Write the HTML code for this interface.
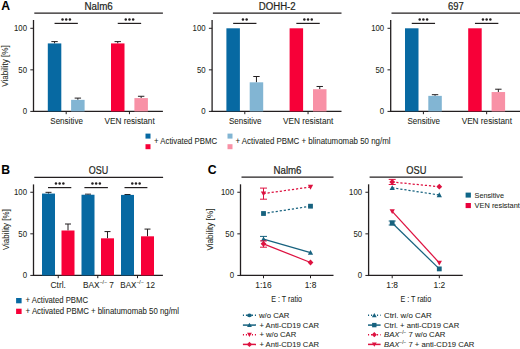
<!DOCTYPE html>
<html><head><meta charset="utf-8"><style>
html,body{margin:0;padding:0;background:#fff;}
body{width:520px;height:349px;overflow:hidden;}
svg{display:block;font-family:"Liberation Sans", sans-serif;}
text{stroke:#231f20;stroke-width:0.06px;}
text.t{stroke-width:0.2px;}
</style></head><body>
<svg width="520" height="349" viewBox="0 0 520 349">
<rect width="520" height="349" fill="#fff"/>
<text x="1.20" y="9.70" font-size="12.2" text-anchor="start" font-weight="bold" fill="#000">A</text>
<text x="98.60" y="9.70" font-size="10" text-anchor="middle" font-weight="normal" fill="#231f20" textLength="28.3" lengthAdjust="spacingAndGlyphs" class="t">Nalm6</text>
<line x1="34.30" y1="13.10" x2="162.90" y2="13.10" stroke="#231f20" stroke-width="1.2"/>
<line x1="33.50" y1="20.00" x2="33.50" y2="112.00" stroke="#231f20" stroke-width="1.3"/>
<line x1="30.30" y1="28.30" x2="33.50" y2="28.30" stroke="#231f20" stroke-width="1"/>
<text x="27.00" y="31.30" font-size="8.6" text-anchor="end" font-weight="normal" fill="#231f20" textLength="13.0" lengthAdjust="spacingAndGlyphs">100</text>
<line x1="30.30" y1="69.85" x2="33.50" y2="69.85" stroke="#231f20" stroke-width="1"/>
<text x="27.00" y="72.85" font-size="8.6" text-anchor="end" font-weight="normal" fill="#231f20" textLength="8.7" lengthAdjust="spacingAndGlyphs">50</text>
<line x1="30.30" y1="111.40" x2="33.50" y2="111.40" stroke="#231f20" stroke-width="1"/>
<text x="27.00" y="114.40" font-size="8.6" text-anchor="end" font-weight="normal" fill="#231f20" textLength="4.35" lengthAdjust="spacingAndGlyphs">0</text>
<line x1="32.90" y1="111.40" x2="162.90" y2="111.40" stroke="#231f20" stroke-width="1.3"/>
<line x1="54.55" y1="41.60" x2="54.55" y2="43.42" stroke="#231f20" stroke-width="1"/>
<line x1="51.35" y1="41.60" x2="57.75" y2="41.60" stroke="#231f20" stroke-width="1"/>
<rect x="47.80" y="43.42" width="13.50" height="67.98" fill="#0769a2"/>
<line x1="77.85" y1="98.10" x2="77.85" y2="99.85" stroke="#231f20" stroke-width="1"/>
<line x1="74.65" y1="98.10" x2="81.05" y2="98.10" stroke="#231f20" stroke-width="1"/>
<rect x="71.10" y="99.85" width="13.50" height="11.55" fill="#82b5d3"/>
<line x1="117.75" y1="41.60" x2="117.75" y2="43.42" stroke="#231f20" stroke-width="1"/>
<line x1="114.55" y1="41.60" x2="120.95" y2="41.60" stroke="#231f20" stroke-width="1"/>
<rect x="111.00" y="43.42" width="13.50" height="67.98" fill="#f70038"/>
<line x1="141.15" y1="96.28" x2="141.15" y2="98.10" stroke="#231f20" stroke-width="1"/>
<line x1="137.95" y1="96.28" x2="144.35" y2="96.28" stroke="#231f20" stroke-width="1"/>
<rect x="134.40" y="98.10" width="13.50" height="13.30" fill="#f891a6"/>
<line x1="66.20" y1="111.40" x2="66.20" y2="114.20" stroke="#231f20" stroke-width="1"/>
<line x1="129.45" y1="111.40" x2="129.45" y2="114.20" stroke="#231f20" stroke-width="1"/>
<line x1="54.55" y1="23.40" x2="77.85" y2="23.40" stroke="#231f20" stroke-width="1.2"/>
<circle cx="62.50" cy="19.40" r="1.25" fill="#231f20"/>
<circle cx="66.20" cy="19.40" r="1.25" fill="#231f20"/>
<circle cx="69.90" cy="19.40" r="1.25" fill="#231f20"/>
<line x1="117.75" y1="23.40" x2="141.15" y2="23.40" stroke="#231f20" stroke-width="1.2"/>
<circle cx="125.75" cy="19.40" r="1.25" fill="#231f20"/>
<circle cx="129.45" cy="19.40" r="1.25" fill="#231f20"/>
<circle cx="133.15" cy="19.40" r="1.25" fill="#231f20"/>
<text x="66.60" y="123.60" font-size="8.5" text-anchor="middle" font-weight="normal" fill="#231f20" textLength="32.6" lengthAdjust="spacingAndGlyphs">Sensitive</text>
<text x="129.60" y="123.60" font-size="8.5" text-anchor="middle" font-weight="normal" fill="#231f20" textLength="50.3" lengthAdjust="spacingAndGlyphs">VEN resistant</text>
<text transform="translate(7.9,66.0) rotate(-90)" font-size="9" text-anchor="middle" fill="#231f20" textLength="41.5" lengthAdjust="spacingAndGlyphs">Viability [%]</text>
<text x="277.20" y="9.70" font-size="10" text-anchor="middle" font-weight="normal" fill="#231f20" textLength="36.9" lengthAdjust="spacingAndGlyphs" class="t">DOHH-2</text>
<line x1="212.90" y1="13.10" x2="341.50" y2="13.10" stroke="#231f20" stroke-width="1.2"/>
<line x1="212.10" y1="20.00" x2="212.10" y2="112.00" stroke="#231f20" stroke-width="1.3"/>
<line x1="208.90" y1="28.30" x2="212.10" y2="28.30" stroke="#231f20" stroke-width="1"/>
<text x="205.60" y="31.30" font-size="8.6" text-anchor="end" font-weight="normal" fill="#231f20" textLength="13.0" lengthAdjust="spacingAndGlyphs">100</text>
<line x1="208.90" y1="69.85" x2="212.10" y2="69.85" stroke="#231f20" stroke-width="1"/>
<text x="205.60" y="72.85" font-size="8.6" text-anchor="end" font-weight="normal" fill="#231f20" textLength="8.7" lengthAdjust="spacingAndGlyphs">50</text>
<line x1="208.90" y1="111.40" x2="212.10" y2="111.40" stroke="#231f20" stroke-width="1"/>
<text x="205.60" y="114.40" font-size="8.6" text-anchor="end" font-weight="normal" fill="#231f20" textLength="4.35" lengthAdjust="spacingAndGlyphs">0</text>
<line x1="211.50" y1="111.40" x2="341.50" y2="111.40" stroke="#231f20" stroke-width="1.3"/>
<rect x="226.40" y="28.30" width="13.50" height="83.10" fill="#0769a2"/>
<line x1="256.45" y1="76.50" x2="256.45" y2="82.32" stroke="#231f20" stroke-width="1"/>
<line x1="253.25" y1="76.50" x2="259.65" y2="76.50" stroke="#231f20" stroke-width="1"/>
<rect x="249.70" y="82.32" width="13.50" height="29.08" fill="#82b5d3"/>
<rect x="289.60" y="28.30" width="13.50" height="83.10" fill="#f70038"/>
<line x1="319.75" y1="86.47" x2="319.75" y2="89.21" stroke="#231f20" stroke-width="1"/>
<line x1="316.55" y1="86.47" x2="322.95" y2="86.47" stroke="#231f20" stroke-width="1"/>
<rect x="313.00" y="89.21" width="13.50" height="22.19" fill="#f891a6"/>
<line x1="244.80" y1="111.40" x2="244.80" y2="114.20" stroke="#231f20" stroke-width="1"/>
<line x1="308.05" y1="111.40" x2="308.05" y2="114.20" stroke="#231f20" stroke-width="1"/>
<line x1="233.15" y1="23.40" x2="256.45" y2="23.40" stroke="#231f20" stroke-width="1.2"/>
<circle cx="242.95" cy="19.40" r="1.25" fill="#231f20"/>
<circle cx="246.65" cy="19.40" r="1.25" fill="#231f20"/>
<line x1="296.35" y1="23.40" x2="319.75" y2="23.40" stroke="#231f20" stroke-width="1.2"/>
<circle cx="304.35" cy="19.40" r="1.25" fill="#231f20"/>
<circle cx="308.05" cy="19.40" r="1.25" fill="#231f20"/>
<circle cx="311.75" cy="19.40" r="1.25" fill="#231f20"/>
<text x="245.20" y="123.60" font-size="8.5" text-anchor="middle" font-weight="normal" fill="#231f20" textLength="32.6" lengthAdjust="spacingAndGlyphs">Sensitive</text>
<text x="308.20" y="123.60" font-size="8.5" text-anchor="middle" font-weight="normal" fill="#231f20" textLength="50.3" lengthAdjust="spacingAndGlyphs">VEN resistant</text>
<text x="455.80" y="9.70" font-size="10" text-anchor="middle" font-weight="normal" fill="#231f20" textLength="15.7" lengthAdjust="spacingAndGlyphs" class="t">697</text>
<line x1="391.50" y1="13.10" x2="520.00" y2="13.10" stroke="#231f20" stroke-width="1.2"/>
<line x1="390.70" y1="20.00" x2="390.70" y2="112.00" stroke="#231f20" stroke-width="1.3"/>
<line x1="387.50" y1="28.30" x2="390.70" y2="28.30" stroke="#231f20" stroke-width="1"/>
<text x="384.20" y="31.30" font-size="8.6" text-anchor="end" font-weight="normal" fill="#231f20" textLength="13.0" lengthAdjust="spacingAndGlyphs">100</text>
<line x1="387.50" y1="69.85" x2="390.70" y2="69.85" stroke="#231f20" stroke-width="1"/>
<text x="384.20" y="72.85" font-size="8.6" text-anchor="end" font-weight="normal" fill="#231f20" textLength="8.7" lengthAdjust="spacingAndGlyphs">50</text>
<line x1="387.50" y1="111.40" x2="390.70" y2="111.40" stroke="#231f20" stroke-width="1"/>
<text x="384.20" y="114.40" font-size="8.6" text-anchor="end" font-weight="normal" fill="#231f20" textLength="4.35" lengthAdjust="spacingAndGlyphs">0</text>
<line x1="390.10" y1="111.40" x2="520.10" y2="111.40" stroke="#231f20" stroke-width="1.3"/>
<rect x="405.00" y="28.30" width="13.50" height="83.10" fill="#0769a2"/>
<line x1="435.05" y1="94.70" x2="435.05" y2="95.86" stroke="#231f20" stroke-width="1"/>
<line x1="431.85" y1="94.70" x2="438.25" y2="94.70" stroke="#231f20" stroke-width="1"/>
<rect x="428.30" y="95.86" width="13.50" height="15.54" fill="#82b5d3"/>
<rect x="468.20" y="28.30" width="13.50" height="83.10" fill="#f70038"/>
<line x1="498.35" y1="89.21" x2="498.35" y2="92.04" stroke="#231f20" stroke-width="1"/>
<line x1="495.15" y1="89.21" x2="501.55" y2="89.21" stroke="#231f20" stroke-width="1"/>
<rect x="491.60" y="92.04" width="13.50" height="19.36" fill="#f891a6"/>
<line x1="423.40" y1="111.40" x2="423.40" y2="114.20" stroke="#231f20" stroke-width="1"/>
<line x1="486.65" y1="111.40" x2="486.65" y2="114.20" stroke="#231f20" stroke-width="1"/>
<line x1="411.75" y1="23.40" x2="435.05" y2="23.40" stroke="#231f20" stroke-width="1.2"/>
<circle cx="419.70" cy="19.40" r="1.25" fill="#231f20"/>
<circle cx="423.40" cy="19.40" r="1.25" fill="#231f20"/>
<circle cx="427.10" cy="19.40" r="1.25" fill="#231f20"/>
<line x1="474.95" y1="23.40" x2="498.35" y2="23.40" stroke="#231f20" stroke-width="1.2"/>
<circle cx="482.95" cy="19.40" r="1.25" fill="#231f20"/>
<circle cx="486.65" cy="19.40" r="1.25" fill="#231f20"/>
<circle cx="490.35" cy="19.40" r="1.25" fill="#231f20"/>
<text x="423.80" y="123.60" font-size="8.5" text-anchor="middle" font-weight="normal" fill="#231f20" textLength="32.6" lengthAdjust="spacingAndGlyphs">Sensitive</text>
<text x="486.80" y="123.60" font-size="8.5" text-anchor="middle" font-weight="normal" fill="#231f20" textLength="50.3" lengthAdjust="spacingAndGlyphs">VEN resistant</text>
<rect x="145.50" y="133.60" width="5.00" height="5.00" fill="#0769a2"/>
<rect x="145.50" y="144.20" width="5.00" height="5.00" fill="#f70038"/>
<text x="154.00" y="144.10" font-size="8.4" text-anchor="start" font-weight="normal" fill="#231f20" textLength="63.1" lengthAdjust="spacingAndGlyphs">+ Activated PBMC</text>
<rect x="227.50" y="133.60" width="5.00" height="5.00" fill="#82b5d3"/>
<rect x="227.50" y="144.20" width="5.00" height="5.00" fill="#f891a6"/>
<text x="235.40" y="144.10" font-size="8.4" text-anchor="start" font-weight="normal" fill="#231f20" textLength="155.1" lengthAdjust="spacingAndGlyphs">+ Activated PBMC + blinatumomab 50 ng/ml</text>
<text x="1.20" y="174.30" font-size="12.2" text-anchor="start" font-weight="bold" fill="#000">B</text>
<text x="98.50" y="174.30" font-size="10.3" text-anchor="middle" font-weight="normal" fill="#231f20" textLength="19.4" lengthAdjust="spacingAndGlyphs" class="t">OSU</text>
<line x1="34.30" y1="177.30" x2="163.10" y2="177.30" stroke="#231f20" stroke-width="1.2"/>
<line x1="33.50" y1="184.40" x2="33.50" y2="276.00" stroke="#231f20" stroke-width="1.3"/>
<line x1="30.30" y1="192.25" x2="33.50" y2="192.25" stroke="#231f20" stroke-width="1"/>
<text x="27.00" y="195.25" font-size="8.6" text-anchor="end" font-weight="normal" fill="#231f20" textLength="13.0" lengthAdjust="spacingAndGlyphs">100</text>
<line x1="30.30" y1="233.82" x2="33.50" y2="233.82" stroke="#231f20" stroke-width="1"/>
<text x="27.00" y="236.82" font-size="8.6" text-anchor="end" font-weight="normal" fill="#231f20" textLength="8.7" lengthAdjust="spacingAndGlyphs">50</text>
<line x1="30.30" y1="275.40" x2="33.50" y2="275.40" stroke="#231f20" stroke-width="1"/>
<text x="27.00" y="278.40" font-size="8.6" text-anchor="end" font-weight="normal" fill="#231f20" textLength="4.35" lengthAdjust="spacingAndGlyphs">0</text>
<line x1="32.90" y1="275.40" x2="162.90" y2="275.40" stroke="#231f20" stroke-width="1.3"/>
<line x1="48.50" y1="192.33" x2="48.50" y2="193.58" stroke="#231f20" stroke-width="1"/>
<line x1="45.50" y1="192.33" x2="51.50" y2="192.33" stroke="#231f20" stroke-width="1"/>
<rect x="42.00" y="193.58" width="13.00" height="81.82" fill="#0769a2"/>
<line x1="68.00" y1="224.01" x2="68.00" y2="230.50" stroke="#231f20" stroke-width="1"/>
<line x1="65.00" y1="224.01" x2="71.00" y2="224.01" stroke="#231f20" stroke-width="1"/>
<rect x="61.50" y="230.50" width="13.00" height="44.90" fill="#f70038"/>
<line x1="88.00" y1="194.16" x2="88.00" y2="194.74" stroke="#231f20" stroke-width="1"/>
<line x1="85.00" y1="194.16" x2="91.00" y2="194.16" stroke="#231f20" stroke-width="1"/>
<rect x="81.50" y="194.74" width="13.00" height="80.66" fill="#0769a2"/>
<line x1="107.50" y1="231.58" x2="107.50" y2="238.32" stroke="#231f20" stroke-width="1"/>
<line x1="104.50" y1="231.58" x2="110.50" y2="231.58" stroke="#231f20" stroke-width="1"/>
<rect x="101.00" y="238.32" width="13.00" height="37.08" fill="#f70038"/>
<line x1="127.50" y1="194.50" x2="127.50" y2="194.91" stroke="#231f20" stroke-width="1"/>
<line x1="124.50" y1="194.50" x2="130.50" y2="194.50" stroke="#231f20" stroke-width="1"/>
<rect x="121.00" y="194.91" width="13.00" height="80.49" fill="#0769a2"/>
<line x1="147.50" y1="229.09" x2="147.50" y2="236.32" stroke="#231f20" stroke-width="1"/>
<line x1="144.50" y1="229.09" x2="150.50" y2="229.09" stroke="#231f20" stroke-width="1"/>
<rect x="141.00" y="236.32" width="13.00" height="39.08" fill="#f70038"/>
<line x1="58.25" y1="275.40" x2="58.25" y2="278.20" stroke="#231f20" stroke-width="1"/>
<line x1="97.75" y1="275.40" x2="97.75" y2="278.20" stroke="#231f20" stroke-width="1"/>
<line x1="137.50" y1="275.40" x2="137.50" y2="278.20" stroke="#231f20" stroke-width="1"/>
<line x1="48.00" y1="187.60" x2="71.30" y2="187.60" stroke="#231f20" stroke-width="1.2"/>
<circle cx="55.95" cy="183.50" r="1.25" fill="#231f20"/>
<circle cx="59.65" cy="183.50" r="1.25" fill="#231f20"/>
<circle cx="63.35" cy="183.50" r="1.25" fill="#231f20"/>
<line x1="84.40" y1="187.60" x2="107.90" y2="187.60" stroke="#231f20" stroke-width="1.2"/>
<circle cx="92.45" cy="183.50" r="1.25" fill="#231f20"/>
<circle cx="96.15" cy="183.50" r="1.25" fill="#231f20"/>
<circle cx="99.85" cy="183.50" r="1.25" fill="#231f20"/>
<line x1="124.50" y1="187.60" x2="147.40" y2="187.60" stroke="#231f20" stroke-width="1.2"/>
<circle cx="132.25" cy="183.50" r="1.25" fill="#231f20"/>
<circle cx="135.95" cy="183.50" r="1.25" fill="#231f20"/>
<circle cx="139.65" cy="183.50" r="1.25" fill="#231f20"/>
<text transform="translate(9.3,229.7) rotate(-90)" font-size="9" text-anchor="middle" fill="#231f20" textLength="40.7" lengthAdjust="spacingAndGlyphs">Viability [%]</text>
<text x="58.20" y="287.70" font-size="8.5" text-anchor="middle" font-weight="normal" fill="#231f20" textLength="15.3" lengthAdjust="spacingAndGlyphs">Ctrl.</text>
<text x="83" y="287.6" font-size="8.4" textLength="30.8" lengthAdjust="spacingAndGlyphs" fill="#231f20">BAX<tspan font-size="5.2" dy="-3.2">−/−</tspan><tspan dy="3.2"> 7</tspan></text>
<text x="120.3" y="287.6" font-size="8.4" textLength="34.6" lengthAdjust="spacingAndGlyphs" fill="#231f20">BAX<tspan font-size="5.2" dy="-3.2">−/−</tspan><tspan dy="3.2"> 12</tspan></text>
<rect x="16.10" y="298.00" width="5.50" height="5.30" fill="#0769a2"/>
<rect x="16.10" y="308.70" width="5.50" height="5.30" fill="#f70038"/>
<text x="25.60" y="303.10" font-size="8.4" text-anchor="start" font-weight="normal" fill="#231f20" textLength="62.4" lengthAdjust="spacingAndGlyphs">+ Activated PBMC</text>
<text x="25.60" y="313.50" font-size="8.4" text-anchor="start" font-weight="normal" fill="#231f20" textLength="153.5" lengthAdjust="spacingAndGlyphs">+ Activated PBMC + blinatumomab 50 ng/ml</text>
<text x="207.80" y="174.30" font-size="12.2" text-anchor="start" font-weight="bold" fill="#000">C</text>
<text x="287.50" y="174.30" font-size="10.3" text-anchor="middle" font-weight="normal" fill="#231f20" textLength="28" lengthAdjust="spacingAndGlyphs" class="t">Nalm6</text>
<line x1="241.50" y1="177.20" x2="333.50" y2="177.20" stroke="#231f20" stroke-width="1.2"/>
<line x1="240.50" y1="184.30" x2="240.50" y2="276.05" stroke="#231f20" stroke-width="1.3"/>
<line x1="237.30" y1="192.25" x2="240.50" y2="192.25" stroke="#231f20" stroke-width="1"/>
<text x="234.00" y="195.25" font-size="8.6" text-anchor="end" font-weight="normal" fill="#231f20" textLength="13.0" lengthAdjust="spacingAndGlyphs">100</text>
<line x1="237.30" y1="233.85" x2="240.50" y2="233.85" stroke="#231f20" stroke-width="1"/>
<text x="234.00" y="236.85" font-size="8.6" text-anchor="end" font-weight="normal" fill="#231f20" textLength="8.7" lengthAdjust="spacingAndGlyphs">50</text>
<line x1="237.30" y1="275.45" x2="240.50" y2="275.45" stroke="#231f20" stroke-width="1"/>
<text x="234.00" y="278.45" font-size="8.6" text-anchor="end" font-weight="normal" fill="#231f20" textLength="4.35" lengthAdjust="spacingAndGlyphs">0</text>
<line x1="239.90" y1="275.45" x2="333.50" y2="275.45" stroke="#231f20" stroke-width="1.3"/>
<line x1="263.50" y1="275.45" x2="263.50" y2="278.25" stroke="#231f20" stroke-width="1"/>
<text x="263.50" y="287.70" font-size="8.4" text-anchor="middle" font-weight="normal" fill="#231f20">1:16</text>
<line x1="310.50" y1="275.45" x2="310.50" y2="278.25" stroke="#231f20" stroke-width="1"/>
<text x="310.50" y="287.70" font-size="8.4" text-anchor="middle" font-weight="normal" fill="#231f20">1:8</text>
<text transform="translate(286.60,302.2) scale(0.76,1)" font-size="9.4" text-anchor="middle" fill="#231f20">E : T ratio</text>
<line x1="263.50" y1="193.60" x2="310.50" y2="187.00" stroke="#dd1240" stroke-width="1.25" stroke-dasharray="2.2,1.9"/>
<line x1="263.50" y1="188.10" x2="263.50" y2="199.20" stroke="#dd1240" stroke-width="1"/>
<line x1="260.00" y1="188.10" x2="267.00" y2="188.10" stroke="#dd1240" stroke-width="1"/>
<line x1="260.00" y1="199.20" x2="267.00" y2="199.20" stroke="#dd1240" stroke-width="1"/>
<polygon points="263.50,196.24 266.14,191.44 260.86,191.44" fill="#dd1240"/>
<polygon points="310.50,189.64 313.14,184.84 307.86,184.84" fill="#dd1240"/>
<line x1="263.50" y1="213.50" x2="310.50" y2="206.20" stroke="#17627f" stroke-width="1.25" stroke-dasharray="2.2,1.9"/>
<rect x="261.10" y="211.10" width="4.80" height="4.80" fill="#17627f"/>
<rect x="308.10" y="203.80" width="4.80" height="4.80" fill="#17627f"/>
<line x1="263.50" y1="239.10" x2="310.50" y2="252.60" stroke="#17627f" stroke-width="1.25"/>
<line x1="263.50" y1="236.40" x2="263.50" y2="239.10" stroke="#17627f" stroke-width="1"/>
<line x1="260.00" y1="236.40" x2="267.00" y2="236.40" stroke="#17627f" stroke-width="1"/>
<polygon points="263.50,236.46 266.14,241.26 260.86,241.26" fill="#17627f"/>
<polygon points="310.50,249.96 313.14,254.76 307.86,254.76" fill="#17627f"/>
<line x1="263.50" y1="243.80" x2="310.50" y2="262.50" stroke="#dd1240" stroke-width="1.25"/>
<line x1="263.50" y1="240.90" x2="263.50" y2="247.20" stroke="#dd1240" stroke-width="1"/>
<line x1="260.00" y1="240.90" x2="267.00" y2="240.90" stroke="#dd1240" stroke-width="1"/>
<line x1="260.00" y1="247.20" x2="267.00" y2="247.20" stroke="#dd1240" stroke-width="1"/>
<polygon points="263.50,240.92 266.38,243.80 263.50,246.68 260.62,243.80" fill="#dd1240"/>
<polygon points="310.50,259.62 313.38,262.50 310.50,265.38 307.62,262.50" fill="#dd1240"/>
<text transform="translate(213.4,229.6) rotate(-90)" font-size="9" text-anchor="middle" fill="#231f20" textLength="42" lengthAdjust="spacingAndGlyphs">Viability [%]</text>
<text x="416.30" y="174.30" font-size="10.3" text-anchor="middle" font-weight="normal" fill="#231f20" textLength="20.1" lengthAdjust="spacingAndGlyphs" class="t">OSU</text>
<line x1="369.60" y1="177.20" x2="462.70" y2="177.20" stroke="#231f20" stroke-width="1.2"/>
<line x1="368.60" y1="184.30" x2="368.60" y2="276.05" stroke="#231f20" stroke-width="1.3"/>
<line x1="365.40" y1="192.25" x2="368.60" y2="192.25" stroke="#231f20" stroke-width="1"/>
<text x="362.10" y="195.25" font-size="8.6" text-anchor="end" font-weight="normal" fill="#231f20" textLength="13.0" lengthAdjust="spacingAndGlyphs">100</text>
<line x1="365.40" y1="233.85" x2="368.60" y2="233.85" stroke="#231f20" stroke-width="1"/>
<text x="362.10" y="236.85" font-size="8.6" text-anchor="end" font-weight="normal" fill="#231f20" textLength="8.7" lengthAdjust="spacingAndGlyphs">50</text>
<line x1="365.40" y1="275.45" x2="368.60" y2="275.45" stroke="#231f20" stroke-width="1"/>
<text x="362.10" y="278.45" font-size="8.6" text-anchor="end" font-weight="normal" fill="#231f20" textLength="4.35" lengthAdjust="spacingAndGlyphs">0</text>
<line x1="368.00" y1="275.45" x2="462.70" y2="275.45" stroke="#231f20" stroke-width="1.3"/>
<line x1="392.20" y1="275.45" x2="392.20" y2="278.25" stroke="#231f20" stroke-width="1"/>
<text x="392.20" y="287.70" font-size="8.4" text-anchor="middle" font-weight="normal" fill="#231f20">1:8</text>
<line x1="439.30" y1="275.45" x2="439.30" y2="278.25" stroke="#231f20" stroke-width="1"/>
<text x="439.30" y="287.70" font-size="8.4" text-anchor="middle" font-weight="normal" fill="#231f20">1:2</text>
<text transform="translate(415.80,302.2) scale(0.76,1)" font-size="9.4" text-anchor="middle" fill="#231f20">E : T ratio</text>
<line x1="392.20" y1="182.00" x2="439.30" y2="186.70" stroke="#dd1240" stroke-width="1.25" stroke-dasharray="2.2,1.9"/>
<line x1="392.20" y1="179.40" x2="392.20" y2="184.50" stroke="#dd1240" stroke-width="1"/>
<line x1="388.70" y1="179.40" x2="395.70" y2="179.40" stroke="#dd1240" stroke-width="1"/>
<line x1="388.70" y1="184.50" x2="395.70" y2="184.50" stroke="#dd1240" stroke-width="1"/>
<polygon points="392.20,179.12 395.08,182.00 392.20,184.88 389.32,182.00" fill="#dd1240"/>
<polygon points="439.30,183.82 442.18,186.70 439.30,189.58 436.42,186.70" fill="#dd1240"/>
<line x1="392.20" y1="187.80" x2="439.30" y2="195.00" stroke="#17627f" stroke-width="1.25" stroke-dasharray="2.2,1.9"/>
<polygon points="392.20,185.16 394.84,189.96 389.56,189.96" fill="#17627f"/>
<polygon points="439.30,192.36 441.94,197.16 436.66,197.16" fill="#17627f"/>
<line x1="392.20" y1="211.30" x2="439.30" y2="262.90" stroke="#dd1240" stroke-width="1.25"/>
<polygon points="392.20,213.94 394.84,209.14 389.56,209.14" fill="#dd1240"/>
<polygon points="439.30,265.54 441.94,260.74 436.66,260.74" fill="#dd1240"/>
<line x1="392.20" y1="223.00" x2="439.30" y2="268.90" stroke="#17627f" stroke-width="1.25"/>
<line x1="392.20" y1="221.00" x2="392.20" y2="225.00" stroke="#17627f" stroke-width="1"/>
<line x1="388.70" y1="221.00" x2="395.70" y2="221.00" stroke="#17627f" stroke-width="1"/>
<line x1="388.70" y1="225.00" x2="395.70" y2="225.00" stroke="#17627f" stroke-width="1"/>
<rect x="389.80" y="220.60" width="4.80" height="4.80" fill="#17627f"/>
<rect x="436.90" y="266.50" width="4.80" height="4.80" fill="#17627f"/>
<rect x="465.60" y="192.60" width="5.30" height="5.00" fill="#0f6688"/>
<rect x="465.60" y="203.00" width="5.30" height="5.10" fill="#e8003c"/>
<text x="474.60" y="197.60" font-size="8.0" text-anchor="start" font-weight="normal" fill="#231f20" textLength="29.4" lengthAdjust="spacingAndGlyphs">Sensitive</text>
<text x="474.60" y="208.20" font-size="8.0" text-anchor="start" font-weight="normal" fill="#231f20" textLength="45.3" lengthAdjust="spacingAndGlyphs">VEN resistant</text>
<line x1="242.90" y1="315.30" x2="256.00" y2="315.30" stroke="#17627f" stroke-width="1.5" stroke-dasharray="1.1,1.9"/>
<ellipse cx="249.45" cy="315.30" rx="2.42" ry="1.87" fill="#17627f"/>
<text x="259.00" y="317.90" font-size="8.1" fill="#231f20" textLength="30.4" lengthAdjust="spacingAndGlyphs">w/o CAR</text>
<line x1="242.90" y1="325.10" x2="256.00" y2="325.10" stroke="#17627f" stroke-width="1.5"/>
<polygon points="249.45,322.68 251.87,327.08 247.03,327.08" fill="#17627f"/>
<text x="259.40" y="327.70" font-size="8.1" fill="#231f20" textLength="59.6" lengthAdjust="spacingAndGlyphs">+ Anti-CD19 CAR</text>
<line x1="242.90" y1="334.70" x2="256.00" y2="334.70" stroke="#dd1240" stroke-width="1.5" stroke-dasharray="1.1,1.9"/>
<polygon points="249.45,337.12 251.87,332.72 247.03,332.72" fill="#dd1240"/>
<text x="259.40" y="337.30" font-size="8.1" fill="#231f20" textLength="36.8" lengthAdjust="spacingAndGlyphs">+ w/o CAR</text>
<line x1="242.90" y1="344.40" x2="256.00" y2="344.40" stroke="#dd1240" stroke-width="1.5"/>
<polygon points="249.45,341.76 252.09,344.40 249.45,347.04 246.81,344.40" fill="#dd1240"/>
<text x="259.40" y="347.00" font-size="8.1" fill="#231f20" textLength="59.6" lengthAdjust="spacingAndGlyphs">+ Anti-CD19 CAR</text>
<line x1="368.00" y1="315.30" x2="380.60" y2="315.30" stroke="#17627f" stroke-width="1.5" stroke-dasharray="1.1,1.9"/>
<polygon points="374.30,312.88 376.72,317.28 371.88,317.28" fill="#17627f"/>
<text x="384.00" y="317.90" font-size="8.1" fill="#231f20" textLength="47.6" lengthAdjust="spacingAndGlyphs">Ctrl. w/o CAR</text>
<line x1="368.00" y1="325.10" x2="380.60" y2="325.10" stroke="#17627f" stroke-width="1.5"/>
<rect x="372.10" y="322.90" width="4.40" height="4.40" fill="#17627f"/>
<text x="384.00" y="327.70" font-size="8.1" fill="#231f20" textLength="75.2" lengthAdjust="spacingAndGlyphs">Ctrl. + anti-CD19 CAR</text>
<line x1="368.00" y1="334.70" x2="380.60" y2="334.70" stroke="#dd1240" stroke-width="1.5" stroke-dasharray="1.1,1.9"/>
<polygon points="374.30,332.06 376.94,334.70 374.30,337.34 371.66,334.70" fill="#dd1240"/>
<text x="384.00" y="337.30" font-size="8.1" fill="#231f20" textLength="61.4" lengthAdjust="spacingAndGlyphs"><tspan font-style="italic">BAX</tspan><tspan font-size="5" dy="-3">−/−</tspan><tspan dy="3"> 7 w/o CAR</tspan></text>
<line x1="368.00" y1="344.40" x2="380.60" y2="344.40" stroke="#dd1240" stroke-width="1.5"/>
<polygon points="374.30,346.82 376.72,342.42 371.88,342.42" fill="#dd1240"/>
<text x="384.00" y="347.00" font-size="8.1" fill="#231f20" textLength="90.4" lengthAdjust="spacingAndGlyphs"><tspan font-style="italic">BAX</tspan><tspan font-size="5" dy="-3">−/−</tspan><tspan dy="3"> 7 + anti-CD19 CAR</tspan></text>
</svg>
</body></html>
